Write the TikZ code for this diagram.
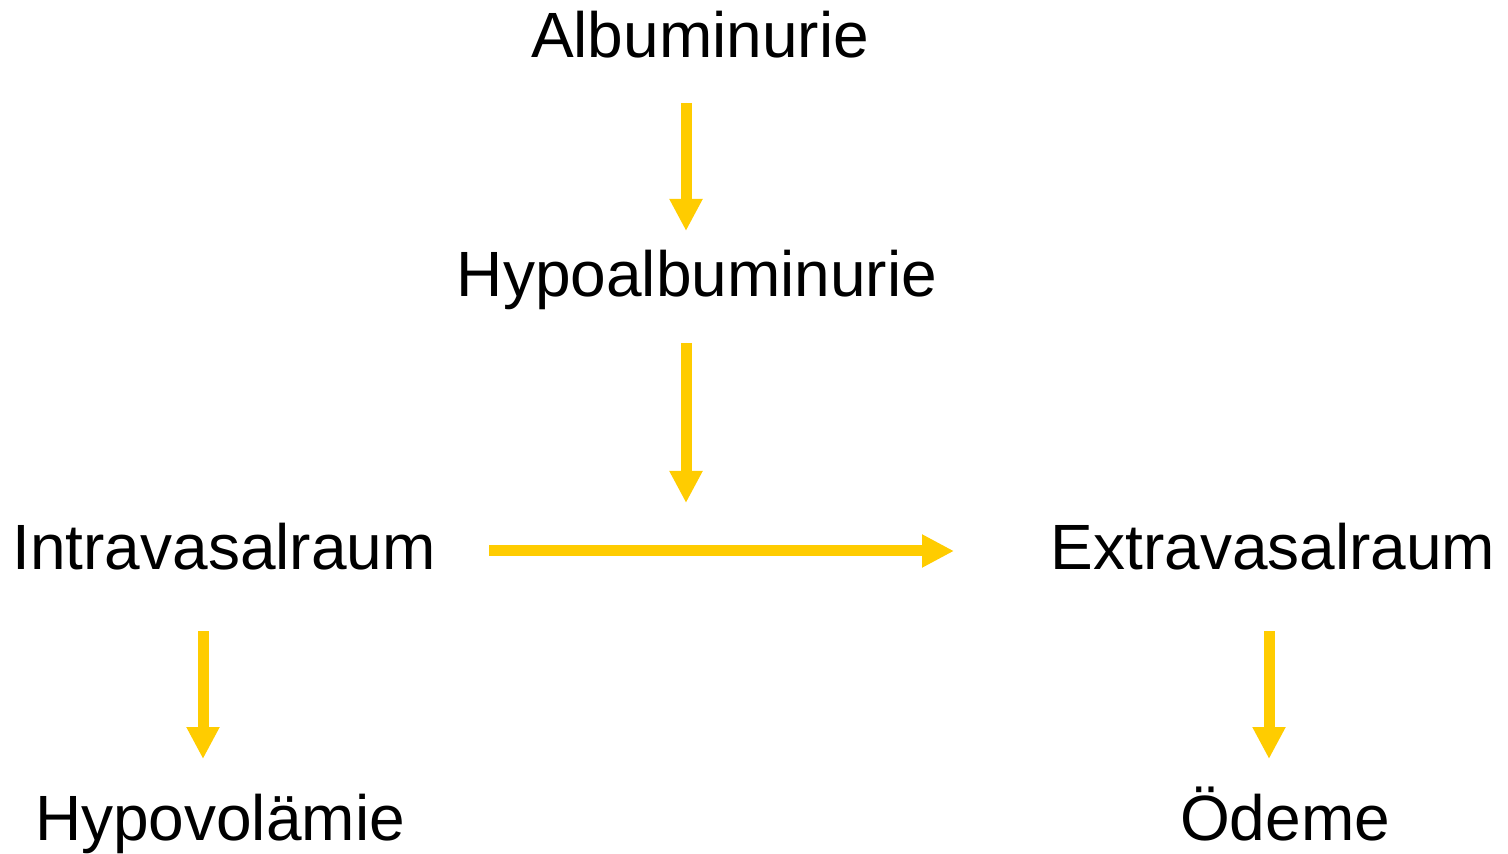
\documentclass[tikz,border=0pt]{standalone}
\usepackage{fontspec}
\setmainfont{Liberation Sans}
\usetikzlibrary{arrows.meta}
\definecolor{arrowyellow}{HTML}{FFCC00}
\tikzset{
  lbl/.style={anchor=base, inner sep=0pt, font=\fontsize{32pt}{38pt}\selectfont},
  arr/.style={draw=arrowyellow, line width=5.5pt, -{Triangle[width=15.5pt,length=16pt]}, fill=arrowyellow}
}
\begin{document}
\begin{tikzpicture}[x=0.5pt,y=-0.5pt]
\useasboundingbox[fill=white] (0,0) rectangle (1508,854);
\node[lbl] (alb) at (700,58) {Albuminurie};
\node[lbl] (hyp) at (697,297) {Hypoalbuminurie};
\node[lbl] (intra) at (224,570) {Intravasalraum};
\node[lbl] (extra) at (1273,570) {Extravasalraum};
\node[lbl] (vol) at (220,840) {Hypovolämie};
\node[lbl] (oed) at (1285,840) {Ödeme};
\coordinate (a1s) at (686,103);
\coordinate (a1e) at (686,231);
\coordinate (a2s) at (686,343);
\coordinate (a2e) at (686,503);
\coordinate (a3s) at (489,551);
\coordinate (a3e) at (954,551);
\coordinate (a4s) at (203,631);
\coordinate (a4e) at (203,759);
\coordinate (a5s) at (1269,631);
\coordinate (a5e) at (1269,759);
\draw[arr] (a1s) -- (a1e);
\draw[arr] (a2s) -- (a2e);
\draw[arr] (a3s) -- (a3e);
\draw[arr] (a4s) -- (a4e);
\draw[arr] (a5s) -- (a5e);
\end{tikzpicture}
\end{document}
